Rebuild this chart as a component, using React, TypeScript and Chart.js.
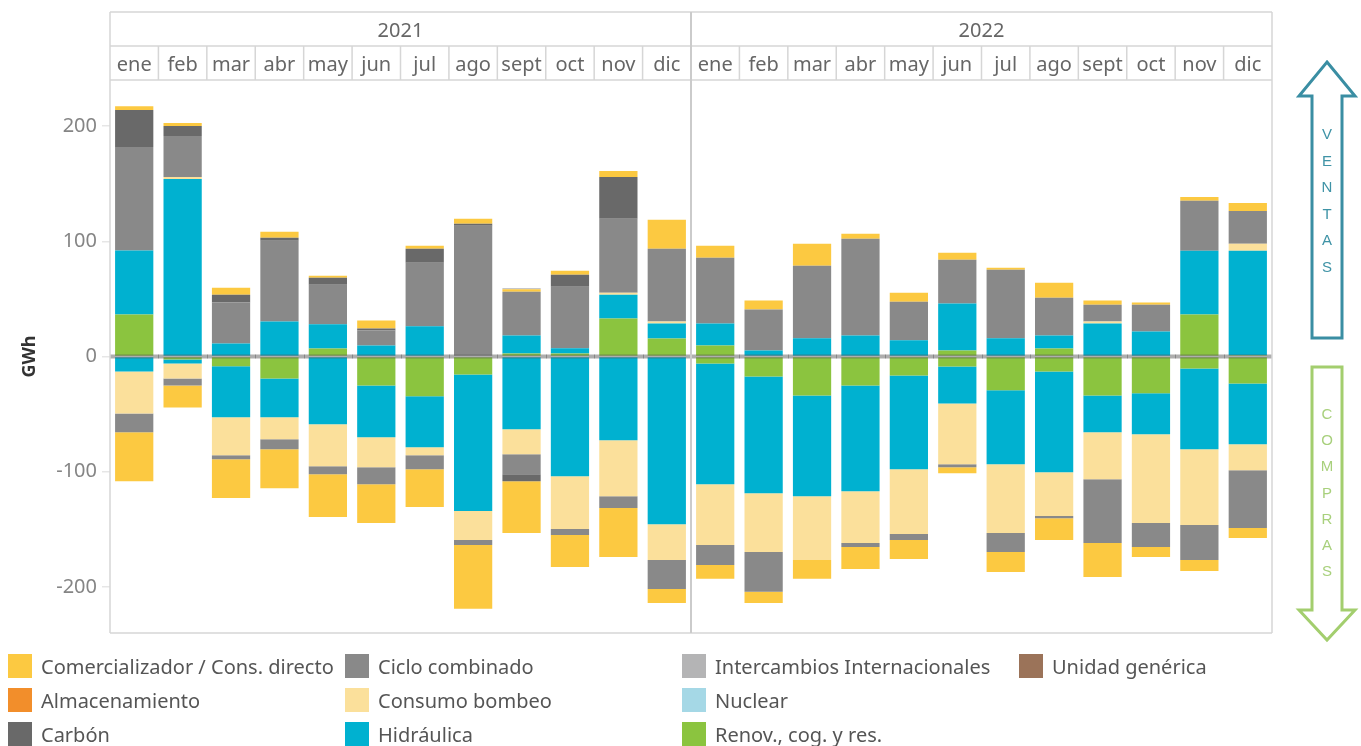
import React, { useEffect, useRef } from "react";
import { Chart, registerables } from "chart.js";

Chart.register(...registerables);

// ---------- data ----------
const months = ["ene", "feb", "mar", "abr", "may", "jun", "jul", "ago", "sept", "oct", "nov", "dic"];
const years = ["2021", "2022"];
const categories = [...months, ...months];
const yTicks = [-200, -100, 0, 100, 200];

// Ventas (positive, GWh) and Compras (negative, GWh), ene 2021 ... dic 2022
const renovVentas = [36.4, 0, 0, 0, 6.9, 0, 0, 0, 2.6, 2.6, 32.9, 15.6, 9.5, 0, 0, 0, 0, 5.2, 0, 6.9, 0, 0, 36.4, 1];
const renovCompras = [0, -2.5, -8.4, -19, 0, -25.1, -34.6, -15.6, 0, 0, 0, 0, -6, -17.3, -33.8, -25.1, -16.5, -8.7, -29.4, -13, -33.8, -32, -10.4, -23.4];
const hidraVentas = [55.6, 154.1, 11.3, 30.3, 21.1, 9.5, 26.2, 0, 15.6, 4.6, 20.8, 13, 19.1, 5.2, 15.9, 18.2, 14.1, 40.7, 15.9, 11.3, 28.6, 21.6, 55.4, 90.8];
const hidraCompras = [-13, -3.5, -44.4, -33.8, -58.9, -45, -44.2, -118.6, -63.2, -103.9, -72.7, -145.5, -104.8, -101.3, -87.4, -91.8, -81.3, -32, -64.1, -87.4, -32, -35.5, -70.1, -52.8];
const bombeoVentas = [0, 1.7, 0, 0, 0, 0, 0, 0, 0, 0, 1.7, 1.7, 0, 0, 0, 0, 0, 0, 0, 0, 1.7, 0, 0, 6];
const bombeoCompras = [-36.4, -13, -32.9, -19.1, -36.3, -26, -6.9, -25.1, -21.6, -45.9, -48.5, -31.1, -52.8, -51.1, -55.4, -45, -56.3, -52.8, -59.7, -38.1, -40.7, -77.1, -65.8, -22.5];
const cicloVentas = [89.8, 35.5, 35.5, 70.1, 34.3, 13, 55.2, 113.4, 38.1, 53.4, 64.1, 63.2, 57.1, 35.5, 62.9, 84, 33.5, 38.1, 59.4, 32.9, 14.7, 23.4, 43.3, 28.6];
const cicloCompras = [-16.4, -6.1, -3.5, -8.6, -7, -14.7, -12.1, -4.3, -17.4, -5.2, -10.4, -25.1, -17.3, -34.6, 0, -3.5, -5.2, -2.6, -16.5, -1.8, -55.4, -20.8, -30.3, -50.2];
const carbonVentas = [32.1, 8.7, 6.9, 2.6, 6.1, 1.7, 12.1, 1.8, 0, 10.4, 36.3, 0, 0, 0, 0, 0, 0, 0, 0, 0, 0, 0, 0, 0];
const carbonCompras = [0, 0, 0, 0, 0, 0, 0, 0, -6, 0, 0, 0, 0, 0, 0, 0, 0, 0, 0, 0, 0, 0, 0, 0];
const comercVentas = [3.4, 2.6, 6, 5.2, 1.7, 7, 2.6, 4.3, 2, 3.5, 5.2, 25.1, 10.4, 7.8, 19, 4.3, 7.8, 6, 1.8, 13, 3.5, 1.8, 3.4, 6.9];
const comercCompras = [-42.4, -19.1, -33.7, -33.8, -37.2, -33.8, -32.9, -55.4, -45, -27.7, -42.4, -12.2, -12.1, -9.6, -16.4, -19, -16.5, -5.2, -17.3, -19, -29.4, -8.6, -9.5, -8.7];
const interVentas = [0, 0, 0, 0, 0, 0, 0, 0, 1, 0, 0, 0, 0, 0, 0, 0, 0, 0, 0, 0, 0, 0, 0, 0];

// ---------- styles ----------
const COLORS: Record<string, string> = {
  "Comercializador / Cons. directo": "#fcc941",
  "Almacenamiento": "#f28e2b",
  "Carbón": "#696969",
  "Ciclo combinado": "#898989",
  "Consumo bombeo": "#fbe09b",
  "Hidráulica": "#00b1d0",
  "Intercambios Internacionales": "#b4b4b5",
  "Nuclear": "#a5d8e6",
  "Renov., cog. y res.": "#8bc43f",
  "Unidad genérica": "#9b7359",
};

const stackSeries = [
  { label: "Renov., cog. y res.", ventas: renovVentas, compras: renovCompras },
  { label: "Hidráulica", ventas: hidraVentas, compras: hidraCompras },
  { label: "Consumo bombeo", ventas: bombeoVentas, compras: bombeoCompras },
  { label: "Ciclo combinado", ventas: cicloVentas, compras: cicloCompras },
  { label: "Carbón", ventas: carbonVentas, compras: carbonCompras },
  { label: "Comercializador / Cons. directo", ventas: comercVentas, compras: comercCompras },
  { label: "Intercambios Internacionales", ventas: interVentas, compras: null as number[] | null },
];

const legendColumns = [
  ["Comercializador / Cons. directo", "Almacenamiento", "Carbón"],
  ["Ciclo combinado", "Consumo bombeo", "Hidráulica"],
  ["Intercambios Internacionales", "Nuclear", "Renov., cog. y res."],
  ["Unidad genérica"],
];

const FONT = "'Noto Sans', 'DejaVu Sans', sans-serif";
const W = 1361;
const H = 746;
const LINE = "#d6d6d6";

const framePlugin = {
  id: "frame",
  afterDatasetsDraw(chart: any) {
    const { ctx, chartArea } = chart;
    const y = chart.scales.y;
    const x = chart.scales.x;
    const y0 = y.getPixelForValue(0);
    ctx.save();
    ctx.fillStyle = "rgba(85,85,85,0.48)";
    ctx.fillRect(chartArea.left, y0 - 2, chartArea.right - chartArea.left, 4);
    const colW = (chartArea.right - chartArea.left) / categories.length;
    ctx.fillStyle = "rgba(60,60,60,0.35)";
    for (let i = 1; i < categories.length; i++) {
      const bx = x.getPixelForValue(i) - colW / 2;
      ctx.fillRect(Math.round(bx), y0 - 2, 1, 4);
    }
    ctx.restore();
  },
  afterDraw(chart: any) {
    const { ctx, chartArea } = chart;
    const x = chart.scales.x;
    const yr = chart.scales.x2;
    const left = chartArea.left;
    const right = chartArea.right;
    const top = yr.top;
    const mid = x.top;
    const bottom = chartArea.bottom;
    const colW = (right - left) / categories.length;
    ctx.save();
    ctx.strokeStyle = LINE;
    ctx.lineWidth = 1.5;
    ctx.beginPath();
    for (const hy of [top, mid, chartArea.top]) {
      ctx.moveTo(left, hy);
      ctx.lineTo(right, hy);
    }
    ctx.moveTo(left, bottom);
    ctx.lineTo(right, bottom);
    ctx.moveTo(left, top);
    ctx.lineTo(left, bottom);
    ctx.moveTo(right, top);
    ctx.lineTo(right, bottom);
    for (let i = 1; i < categories.length; i++) {
      const bx = x.getPixelForValue(i) - colW / 2;
      ctx.moveTo(bx, mid);
      ctx.lineTo(bx, chartArea.top);
    }
    ctx.stroke();
    ctx.strokeStyle = "#cbcbcb";
    ctx.lineWidth = 2;
    ctx.beginPath();
    const sx = x.getPixelForValue(months.length) - colW / 2;
    ctx.moveTo(sx, top);
    ctx.lineTo(sx, bottom);
    ctx.stroke();
    ctx.restore();
  },
};

function ChartCanvas() {
  const ref = useRef<HTMLCanvasElement | null>(null);
  useEffect(() => {
    if (!ref.current) return;
    const datasets: any[] = [];
    for (const s of stackSeries) {
      datasets.push({
        label: s.label + " (ventas)",
        data: s.ventas,
        backgroundColor: COLORS[s.label],
        borderWidth: 0,
      });
      if (s.compras) {
        datasets.push({
          label: s.label + " (compras)",
          data: s.compras,
          backgroundColor: COLORS[s.label],
          borderWidth: 0,
        });
      }
    }
    const chart = new Chart(ref.current, {
      type: "bar",
      data: { labels: categories, datasets },
      options: {
        animation: false,
        responsive: false,
        devicePixelRatio: 1,
        layout: { padding: { left: 0, top: 12, right: W - 1272, bottom: H - 633 } },
        datasets: { bar: { categoryPercentage: 1, barPercentage: 0.79 } },
        plugins: { legend: { display: false }, tooltip: { enabled: false }, title: { display: false } },
        scales: {
          x: {
            type: "category",
            position: "top",
            stacked: true,
            weight: 0,
            grid: { display: false, drawTicks: false },
            border: { display: false },
            ticks: {
              autoSkip: false,
              maxRotation: 0,
              padding: 3,
              color: "#666666",
              font: { family: FONT, size: 20 },
            },
            afterFit: (s: any) => {
              s.height = 34;
            },
          },
          x2: {
            type: "category",
            position: "top",
            labels: years,
            offset: true,
            weight: 1,
            grid: { display: false, drawTicks: false },
            border: { display: false },
            ticks: {
              autoSkip: false,
              maxRotation: 0,
              padding: 3,
              color: "#666666",
              font: { family: FONT, size: 20 },
            },
            afterFit: (s: any) => {
              s.height = 34;
            },
          },
          y: {
            stacked: true,
            min: -240,
            max: 240,
            afterBuildTicks: (s: any) => {
              s.ticks = yTicks.map((v) => ({ value: v }));
            },
            afterFit: (s: any) => {
              s.width = 110;
            },
            grid: { display: true, drawOnChartArea: false, drawTicks: true, tickLength: 8, color: "#e6e6e6", lineWidth: 1.5 },
            border: { display: false },
            ticks: {
              padding: 5,
              color: "#858585",
              font: { family: FONT, size: 20 },
            },
            title: {
              display: true,
              text: "GWh",
              color: "#333333",
              font: { family: FONT, size: 18, weight: "bold" },
              padding: { top: 19, bottom: 0 },
            },
          },
        },
      },
      plugins: [framePlugin],
    });
    return () => chart.destroy();
  }, []);
  return <canvas ref={ref} width={W} height={H} style={{ position: "absolute", left: 0, top: 0, width: W, height: H }} />;
}

const legendX = [8, 345, 682, 1019];
const legendY = [654, 688, 722];

function Legend() {
  return (
    <>
      {legendColumns.map((col, ci) =>
        col.map((label, ri) => (
          <div
            key={label}
            style={{
              position: "absolute",
              left: legendX[ci],
              top: legendY[ri],
              height: 24,
              display: "flex",
              alignItems: "center",
              whiteSpace: "nowrap",
              fontFamily: FONT,
              fontSize: 20,
              color: "#555555",
            }}
          >
            <span style={{ display: "inline-block", width: 24, height: 24, background: COLORS[label], marginRight: 9 }} />
            <span>{label}</span>
          </div>
        ))
      )}
    </>
  );
}

const ventasLetters = ["V", "E", "N", "T", "A", "S"];
const comprasLetters = ["C", "O", "M", "P", "R", "A", "S"];

function Arrows() {
  const cx = 1327;
  const hw = 28;
  const sw = 15;
  const up = [
    [cx, 62], [cx + hw, 96], [cx + sw, 96], [cx + sw, 338], [cx - sw, 338], [cx - sw, 96], [cx - hw, 96],
  ].map((p) => p.join(",")).join(" ");
  const down = [
    [cx - sw, 367], [cx + sw, 367], [cx + sw, 610], [cx + hw, 610], [cx, 640], [cx - hw, 610], [cx - sw, 610],
  ].map((p) => p.join(",")).join(" ");
  return (
    <svg width={W} height={H} style={{ position: "absolute", left: 0, top: 0, pointerEvents: "none" }}>
      <polygon points={up} fill="none" stroke="#3a8ea3" strokeWidth={3} strokeLinejoin="miter" />
      <polygon points={down} fill="none" stroke="#a3ce6e" strokeWidth={3} strokeLinejoin="miter" />
      {ventasLetters.map((l, i) => (
        <text key={"v" + i} x={cx} y={135 + i * 26.6} textAnchor="middle" dominantBaseline="middle"
          fontFamily="'Liberation Sans', Arial, sans-serif" fontSize={15} fill="#3f93a6">{l}</text>
      ))}
      {comprasLetters.map((l, i) => (
        <text key={"c" + i} x={cx} y={415 + i * 26.2} textAnchor="middle" dominantBaseline="middle"
          fontFamily="'Liberation Sans', Arial, sans-serif" fontSize={15} fill="#a8d07c">{l}</text>
      ))}
    </svg>
  );
}

export default function App() {
  return (
    <div style={{ position: "fixed", left: 0, top: 0, width: W, height: H, overflow: "hidden", background: "#ffffff" }}>
      <ChartCanvas />
      <Legend />
      <Arrows />
    </div>
  );
}
